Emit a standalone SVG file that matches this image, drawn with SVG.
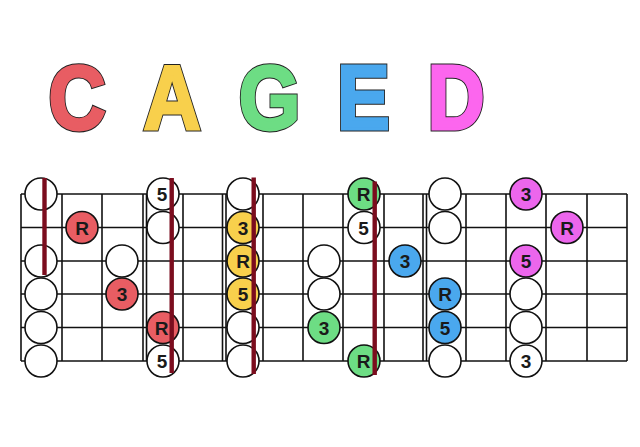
<svg xmlns="http://www.w3.org/2000/svg" width="640" height="447" viewBox="0 0 640 447">
<defs>
<style>
.bg{fill:#ffffff}
.ltr{font-family:"Liberation Sans",Arial,sans-serif;font-weight:bold;font-size:91px;text-anchor:middle;stroke-linejoin:miter;stroke-miterlimit:2}
.o{stroke:#222;stroke-width:5px}
.fr line{stroke:#111;stroke-width:1.6px}
.n circle{stroke:#111;stroke-width:1.6px}
.w{fill:#ffffff}
.r{fill:#e85d63}
.y{fill:#f8d04c}
.g{fill:#6ddd84}
.b{fill:#4aa8ee}
.m{fill:#ec66ec}
.t{font-family:"Liberation Sans",Arial,sans-serif;font-weight:bold;font-size:19px;text-anchor:middle;fill:#1a1a1a}
.bar{stroke:#7b0d1e;stroke-width:4.4px}
</style>
<text id="tC" class="ltr">C</text>
<text id="tA" class="ltr">A</text>
<text id="tG" class="ltr">G</text>
<text id="tE" class="ltr">E</text>
<text id="tD" class="ltr">D</text>
</defs>
<rect class="bg" x="0" y="0" width="640" height="447"/>
<g id="title">
<g transform="translate(77,128.5) scale(0.87,1)"><use href="#tC" class="o" fill="#e85d63"/><use href="#tC" fill="#e85d63" stroke="#e85d63" stroke-width="3"/></g>
<g transform="translate(172,128.5) scale(0.87,1)"><use href="#tA" class="o" fill="#f8d04c"/><use href="#tA" fill="#f8d04c" stroke="#f8d04c" stroke-width="3"/></g>
<g transform="translate(269.5,128.5) scale(0.87,1)"><use href="#tG" class="o" fill="#6ddd84"/><use href="#tG" fill="#6ddd84" stroke="#6ddd84" stroke-width="3"/></g>
<g transform="translate(363.3,128.5) scale(0.87,1)"><use href="#tE" class="o" fill="#4aa8ee"/><use href="#tE" fill="#4aa8ee" stroke="#4aa8ee" stroke-width="3"/></g>
<g transform="translate(456,128.5) scale(0.87,1)"><use href="#tD" class="o" fill="#fc66ee"/><use href="#tD" fill="#fc66ee" stroke="#fc66ee" stroke-width="3"/></g>
</g>
<g id="fretboard" class="fr">
<line x1="21" y1="194" x2="627" y2="194"/>
<line x1="21" y1="227.5" x2="627" y2="227.5"/>
<line x1="21" y1="261" x2="627" y2="261"/>
<line x1="21" y1="294" x2="627" y2="294"/>
<line x1="21" y1="327.5" x2="627" y2="327.5"/>
<line x1="21" y1="361" x2="627" y2="361"/>
<line x1="21" y1="194" x2="21" y2="361"/>
<line x1="62" y1="194" x2="62" y2="361"/>
<line x1="102" y1="194" x2="102" y2="361"/>
<line x1="143" y1="194" x2="143" y2="361"/>
<line x1="146.5" y1="194" x2="146.5" y2="361"/>
<line x1="183" y1="194" x2="183" y2="361"/>
<line x1="222.5" y1="194" x2="222.5" y2="361"/>
<line x1="226" y1="194" x2="226" y2="361"/>
<line x1="263" y1="194" x2="263" y2="361"/>
<line x1="303" y1="194" x2="303" y2="361"/>
<line x1="343" y1="194" x2="343" y2="361"/>
<line x1="384" y1="194" x2="384" y2="361"/>
<line x1="423" y1="194" x2="423" y2="361"/>
<line x1="426.5" y1="194" x2="426.5" y2="361"/>
<line x1="466" y1="194" x2="466" y2="361"/>
<line x1="506" y1="194" x2="506" y2="361"/>
<line x1="546" y1="194" x2="546" y2="361"/>
<line x1="587" y1="194" x2="587" y2="361"/>
<line x1="627" y1="194" x2="627" y2="361"/>
</g>
<g id="notes" class="n">
<g id="c1s1"><circle class="w" cx="41" cy="194" r="16"/></g>
<g id="c1s3"><circle class="w" cx="41" cy="261" r="16"/></g>
<g id="c1s4"><circle class="w" cx="41" cy="294" r="16"/></g>
<g id="c1s5"><circle class="w" cx="41" cy="327.5" r="16"/></g>
<g id="c1s6"><circle class="w" cx="41" cy="361" r="16"/></g>
<g id="c2s2"><circle class="r" cx="82" cy="227.5" r="16"/><text class="t" x="82" y="234.5">R</text></g>
<g id="c3s3"><circle class="w" cx="122" cy="261" r="16"/></g>
<g id="c3s4"><circle class="r" cx="122" cy="294" r="16"/><text class="t" x="122" y="301">3</text></g>
<g id="c4s1"><circle class="w" cx="163" cy="194" r="16"/><text class="t" x="162" y="201">5</text></g>
<g id="c4s2"><circle class="w" cx="163" cy="227.5" r="16"/></g>
<g id="c4s5"><circle class="r" cx="163" cy="327.5" r="16"/><text class="t" x="161.5" y="334.5">R</text></g>
<g id="c4s6"><circle class="w" cx="163" cy="361" r="16"/><text class="t" x="162" y="368">5</text></g>
<g id="c6s1"><circle class="w" cx="243" cy="194" r="16"/></g>
<g id="c6s2"><circle class="y" cx="243" cy="227.5" r="16"/><text class="t" x="243" y="234.5">3</text></g>
<g id="c6s3"><circle class="y" cx="243" cy="261" r="16"/><text class="t" x="243" y="268">R</text></g>
<g id="c6s4"><circle class="y" cx="243" cy="294" r="16"/><text class="t" x="243" y="301">5</text></g>
<g id="c6s5"><circle class="w" cx="243" cy="327.5" r="16"/></g>
<g id="c6s6"><circle class="w" cx="243" cy="361" r="16"/></g>
<g id="c8s3"><circle class="w" cx="324" cy="261" r="16"/></g>
<g id="c8s4"><circle class="w" cx="324" cy="294" r="16"/></g>
<g id="c8s5"><circle class="g" cx="324" cy="327.5" r="16"/><text class="t" x="324" y="334.5">3</text></g>
<g id="c9s1"><circle class="g" cx="364" cy="194" r="16"/><text class="t" x="363.5" y="201">R</text></g>
<g id="c9s2"><circle class="w" cx="364" cy="227.5" r="16"/><text class="t" x="363.5" y="234.5">5</text></g>
<g id="c9s6"><circle class="g" cx="364" cy="361" r="16"/><text class="t" x="363.5" y="368">R</text></g>
<g id="c10s3"><circle class="b" cx="405" cy="261" r="16"/><text class="t" x="405" y="268">3</text></g>
<g id="c11s1"><circle class="w" cx="445" cy="194" r="16"/></g>
<g id="c11s2"><circle class="w" cx="445" cy="227.5" r="16"/></g>
<g id="c11s4"><circle class="b" cx="445" cy="294" r="16"/><text class="t" x="445" y="301">R</text></g>
<g id="c11s5"><circle class="b" cx="445" cy="327.5" r="16"/><text class="t" x="445" y="334.5">5</text></g>
<g id="c11s6"><circle class="w" cx="445" cy="361" r="16"/></g>
<g id="c13s1"><circle class="m" cx="526" cy="194" r="16"/><text class="t" x="526" y="201">3</text></g>
<g id="c13s3"><circle class="m" cx="526" cy="261" r="16"/><text class="t" x="526" y="268">5</text></g>
<g id="c13s4"><circle class="w" cx="526" cy="294" r="16"/></g>
<g id="c13s5"><circle class="w" cx="526" cy="327.5" r="16"/></g>
<g id="c13s6"><circle class="w" cx="526" cy="361" r="16"/><text class="t" x="526" y="368">3</text></g>
<g id="c14s2"><circle class="m" cx="567" cy="227.5" r="16"/><text class="t" x="567" y="234.5">R</text></g>
</g>
<g id="barres">
<line class="bar" x1="44.5" y1="178" x2="44.5" y2="275"/>
<line class="bar" x1="171.7" y1="178" x2="171.7" y2="373"/>
<line class="bar" x1="253.7" y1="177.5" x2="253.7" y2="374"/>
<line class="bar" x1="374.7" y1="181.5" x2="374.7" y2="375"/>
</g>
</svg>
